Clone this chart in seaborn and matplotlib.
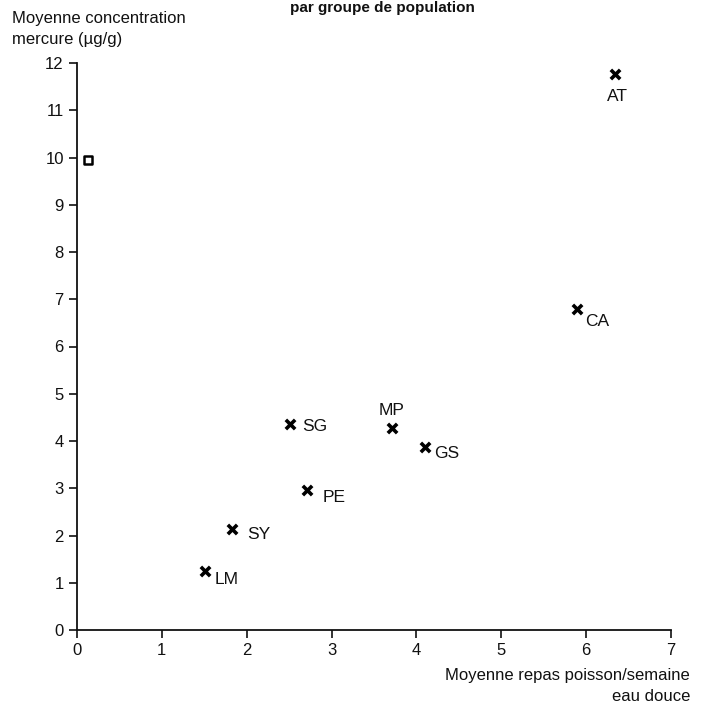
import numpy as np
import pandas as pd
import matplotlib
matplotlib.use('Agg')
import matplotlib.pyplot as plt
import seaborn as sns

# mean fish meals per week (fresh water) vs mean mercury concentration
groups  = ['AT', 'CA', 'MP', 'GS', 'SG', 'PE', 'SY', 'LM']
repas   = [6.34, 5.89, 3.71, 4.10, 2.51, 2.71, 1.83, 1.51]
mercure = [11.77, 6.79, 4.28, 3.87, 4.36, 2.96, 2.14, 1.25]

refRepas   = [0.13]
refMercure = [9.95]

xTicks = [0, 1, 2, 3, 4, 5, 6, 7]
yTicks = [0, 1, 2, 3, 4, 5, 6, 7, 8, 9, 10, 11, 12]

# label placement (pixels from the marker), alignment
labelOffsets = {
    'AT': (2, -23, 'center'),
    'CA': (8, -12, 'left'),
    'MP': (0, 17, 'center'),
    'GS': (9, -6, 'left'),
    'SG': (12, -3, 'left'),
    'PE': (16, -7, 'left'),
    'SY': (15, -6, 'left'),
    'LM': (9, -9, 'left'),
}

df = pd.DataFrame({'groupe': groups, 'repas': repas, 'mercure': mercure})

sns.set_style('white')
plt.rcParams['font.family'] = ['Liberation Sans', 'DejaVu Sans']

fig = plt.figure(figsize=(7.08, 7.04), dpi=100)
ax = fig.add_axes([77 / 708, 1 - 630 / 704, (671 - 77) / 708, (630 - 63) / 704])

sns.scatterplot(data=df, x='repas', y='mercure', marker='x', color='black',
                s=45, linewidth=2.6, ax=ax, zorder=3)
ax.scatter(refRepas, refMercure, marker='s', s=30, facecolor='white',
           edgecolor='black', linewidth=1.8, zorder=3)

for g, x, y in zip(groups, repas, mercure):
    dx, dy, ha = labelOffsets[g]
    ax.annotate(g, (x, y), xytext=(dx, dy), textcoords='offset pixels',
                ha=ha, va='center', fontsize=12.5, color='#111111')

ax.set_xlim(0, 7)
ax.set_ylim(0, 12)
ax.set_xticks(xTicks)
ax.set_yticks(yTicks)
ax.tick_params(axis='both', direction='out', length=6, width=1.2,
               labelsize=12, colors='#111111', left=True, bottom=True)
for side in ['top', 'right']:
    ax.spines[side].set_visible(False)
for side in ['left', 'bottom']:
    ax.spines[side].set_color('#111111')
    ax.spines[side].set_linewidth(1.3)
ax.set_xlabel('')
ax.set_ylabel('')
ax.grid(False)

fig.text(12 / 708, 1 - 29 / 704, 'Moyenne concentration\nmercure (µg/g)',
         ha='left', va='center', fontsize=12, linespacing=1.55, color='#111111')
fig.text(690 / 708, 1 - 686 / 704, 'Moyenne repas poisson/semaine\neau douce',
         ha='right', va='center', fontsize=12, linespacing=1.45, color='#111111')
fig.text(0.54, 1 - 1 / 704, 'par groupe de population', ha='center', va='top',
         fontsize=11, fontweight='bold', color='#111111')

fig.savefig('out.png', dpi=100)
plt.close(fig)
